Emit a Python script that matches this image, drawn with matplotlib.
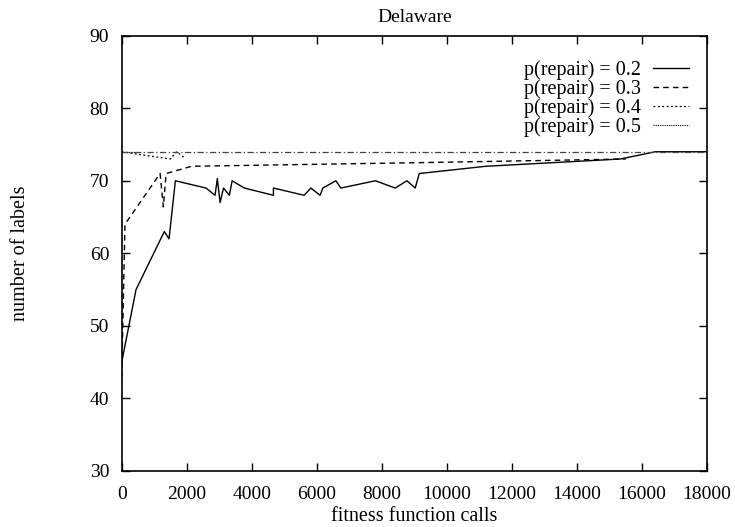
import matplotlib
matplotlib.use("Agg")
import matplotlib.pyplot as plt

# data (fitness calls, number of labels)
calls_02 = [0, 440, 1310, 1455, 1650, 2590, 2870, 2940, 3025, 3130, 3310, 3395,
            3770, 4665, 4665, 5610, 5815, 6100, 6185, 6585, 6740, 7800, 8410,
            8770, 9025, 9150, 11200, 15330, 16410, 18000]
labels_02 = [45, 55, 63, 62, 70, 69, 68, 70.3, 67, 69, 68, 70,
             69, 68, 69, 68, 69, 68, 69, 70, 69, 70, 69,
             70, 69, 71, 72, 73, 74, 74]

calls_03 = [0, 100, 1180, 1280, 1365, 2150, 9180, 15500]
labels_03 = [43, 64, 71, 66.4, 71, 72, 72.5, 73]

calls_04 = [0, 1490, 1690, 1950]
labels_04 = [74, 73, 74, 73.1]

calls_05 = [0, 400]
labels_05 = [74, 74]

calls_best = [0, 18000]
labels_best = [74, 74]

plt.rcParams["font.family"] = ["Liberation Serif", "DejaVu Serif"]
plt.rcParams["font.size"] = 14

fig = plt.figure(figsize=(7.35, 5.27), dpi=100)
ax = fig.add_axes([0.1656, 0.1063, 0.7964, 0.826])

ax.plot(calls_02, labels_02, color="black", lw=1.0, label="p(repair) = 0.2")
ax.plot(calls_03, labels_03, color="black", lw=1.0, dashes=(4, 3),
        label="p(repair) = 0.3")
ax.plot(calls_04, labels_04, color="black", lw=0.9, dashes=(1.5, 2),
        label="p(repair) = 0.4")
ax.plot(calls_05, labels_05, color="black", lw=0.8, dashes=(1, 1),
        label="p(repair) = 0.5")
ax.plot(calls_best, labels_best, color="#444444", lw=0.9,
        dashes=(5, 2, 1, 2))

ax.set_xlim(0, 18000)
ax.set_ylim(30, 90)
ax.set_xticks(range(0, 18001, 2000))
ax.set_yticks(range(30, 91, 10))
ax.tick_params(direction="in", top=True, right=True, length=6, width=1)
ax.tick_params(axis="x", pad=10.5)
ax.tick_params(axis="y", pad=9)
for s in ax.spines.values():
    s.set_linewidth(1.2)

ax.set_title("Delaware", fontsize=14, pad=10)
ax.set_xlabel("fitness function calls", fontsize=14.5, labelpad=3.5)
ax.set_ylabel("number of labels", fontsize=14.5, labelpad=43)

ax.legend(loc="upper right", frameon=False, markerfirst=False,
          handlelength=1.8, handletextpad=0.6, labelspacing=-0.03,
          borderaxespad=0, fontsize=14.5, bbox_to_anchor=(0.983, 0.963))

fig.savefig("out.png", dpi=100)
